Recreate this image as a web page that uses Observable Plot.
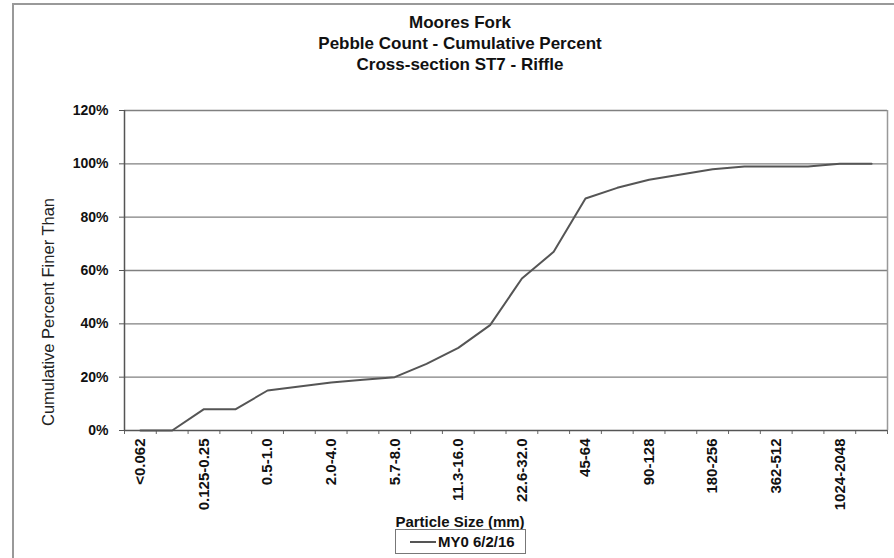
<!DOCTYPE html>
<html>
<head>
<meta charset="utf-8">
<script src="https://cdn.jsdelivr.net/npm/d3@7"></script>
<script src="https://cdn.jsdelivr.net/npm/@observablehq/plot@0.6"></script>
<style>
  html, body { margin: 0; padding: 0; background: #fff; }
  #wrap { position: relative; width: 894px; height: 558px; overflow: hidden; font-family: "Liberation Sans", Arial, sans-serif; }
  #frame { position: absolute; left: 12px; top: 3px; width: 900px; height: 600px; border-left: 2px solid #999; border-top: 2px solid #999; }
  #title { position: absolute; left: 260px; width: 400px; top: 12px; text-align: center; font-weight: bold; font-size: 17px; line-height: 21px; color: #111; }
  #ylab { position: absolute; left: 48px; top: 312px; transform: translate(-50%, -50%) rotate(-90deg); white-space: nowrap; font-size: 16.5px; color: #222; }
  #xlab { position: absolute; left: 460px; top: 521px; transform: translate(-50%, -50%); white-space: nowrap; font-size: 15px; font-weight: bold; color: #111; }
  #legend { position: absolute; left: 395px; top: 529px; width: 131px; height: 25px; box-sizing: border-box; border: 1px solid #777; font-size: 15px; font-weight: bold; color: #111; }
  #legend .sw { position: absolute; left: 14px; top: 11px; width: 26px; height: 0; border-top: 2px solid #555; }
  #legend .tx { position: absolute; left: 42px; top: 3px; white-space: nowrap; }
  #chart { position: absolute; left: 0; top: 100px; }
</style>
</head>
<body>
<div id="wrap">
  <div id="frame"></div>
  <div id="title"></div>
  <div id="chart"></div>
  <div id="ylab"></div>
  <div id="xlab"></div>
  <div id="legend"><div class="sw"></div><div class="tx"></div></div>
</div>
<script>
const titleLines = ["Moores Fork", "Pebble Count - Cumulative Percent", "Cross-section ST7 - Riffle"];
const yTitle = "Cumulative Percent Finer Than";
const xTitle = "Particle Size (mm)";
const seriesName = "MY0 6/2/16";

const categories = [
  "<0.062", "0.062-0.125", "0.125-0.25", "0.25-0.5", "0.5-1.0", "1.0-2.0",
  "2.0-4.0", "4.0-5.7", "5.7-8.0", "8.0-11.3", "11.3-16.0", "16.0-22.6",
  "22.6-32.0", "32-45", "45-64", "64-90", "90-128", "128-180",
  "180-256", "256-362", "362-512", "512-1024", "1024-2048", "2048-4096"
];
const cumulativePercent = [
  0, 0, 8, 8, 15, 16.5,
  18, 19, 20, 25, 31, 39.5,
  57, 67, 87, 91, 94, 96,
  98, 99, 99, 99, 100, 100
];
const yTicks = [0, 20, 40, 60, 80, 100, 120];

document.getElementById("title").innerHTML = titleLines.map(t => `<div>${t}</div>`).join("");
document.getElementById("ylab").textContent = yTitle;
document.getElementById("xlab").textContent = xTitle;
document.querySelector("#legend .tx").textContent = seriesName;

const data = categories.map((c, i) => ({i, c, v: cumulativePercent[i]}));
const n = categories.length;
const labelIdx = d3.range(0, n, 2);
const boundaries = d3.range(0, n + 1).map(k => k - 0.5);

const chart = Plot.plot({
  width: 894,
  height: 420,
  marginTop: 10,
  marginBottom: 90,
  marginLeft: 124,
  marginRight: 7,
  style: {fontFamily: "'Liberation Sans', Arial, sans-serif", color: "#111", background: "transparent"},
  x: {type: "linear", domain: [-0.5, n - 0.5]},
  y: {domain: [0, 120]},
  marks: [
    Plot.ruleY(yTicks.filter(d => d > 0), {stroke: "#808080", strokeWidth: 1.4}),
    Plot.ruleX([n - 0.5], {stroke: "#999", strokeWidth: 1.5}),
    Plot.axisY({ticks: yTicks, tickSize: 5, tickPadding: 11, tickFormat: d => d + "%", fontSize: 14, fontWeight: "bold", label: null, stroke: "#555"}),
    Plot.axisX({ticks: boundaries, tickSize: 4, tickFormat: () => "", label: null, stroke: "#666"}),
    Plot.axisX({ticks: labelIdx, tickSize: 0, tickPadding: 8, tickRotate: -90, tickFormat: i => categories[i], fontSize: 15, fontWeight: "bold", label: null}),
    Plot.ruleX([-0.5], {stroke: "#555", strokeWidth: 1.5}),
    Plot.ruleY([0], {stroke: "#555", strokeWidth: 1.5}),
    Plot.line(data, {x: "i", y: "v", stroke: "#555", strokeWidth: 2})
  ]
});
document.getElementById("chart").appendChild(chart);
</script>
</body>
</html>
